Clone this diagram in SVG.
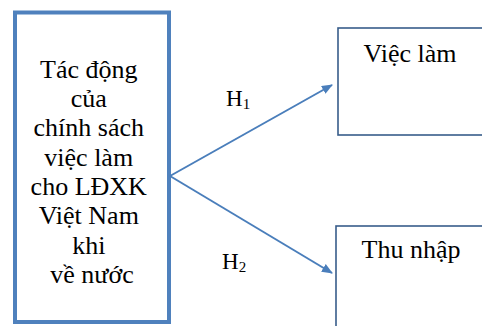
<svg xmlns="http://www.w3.org/2000/svg" width="482" height="326" viewBox="0 0 482 326">
  <style>
    .t { font-family: 'Liberation Serif', 'Times New Roman', serif; fill: #000; }
    .main { font-size: 26px; text-anchor: middle; }
    .lbl { font-size: 23px; }
    .sub { font-size: 15px; }
    .src { fill: #fff; stroke: #4f81bd; stroke-width: 4; }
    .dst { fill: #fff; stroke: #385d8a; stroke-width: 1.6; }
    .edge { stroke: #4a7ebb; stroke-width: 2; fill: none; }
  </style>
  <defs>
    <marker id="arrow" markerWidth="11" markerHeight="9" refX="10" refY="4.5" orient="auto" markerUnits="userSpaceOnUse" viewBox="0 0 11 9">
      <path d="M0,0 L11,4.5 L0,9 Z" fill="#4a7ebb"/>
    </marker>
  </defs>

  <g id="node-policy">
    <rect class="src" x="15" y="12.5" width="154" height="309.5"/>
    <text class="t main" x="92">
      <tspan x="92" y="78">Tác động</tspan>
      <tspan x="92" y="107">của</tspan>
      <tspan x="92" y="136">chính sách</tspan>
      <tspan x="92" y="166">việc làm</tspan>
      <tspan x="92" y="195">cho LĐXK</tspan>
      <tspan x="92" y="224">Việt Nam</tspan>
      <tspan x="92" y="254">khi</tspan>
      <tspan x="92" y="283">về nước</tspan>
    </text>
  </g>

  <g id="node-employment">
    <rect class="dst" x="338" y="28" width="150" height="107"/>
    <text class="t main" x="410" y="62">Việc làm</text>
  </g>

  <g id="node-income">
    <rect class="dst" x="336" y="226" width="150" height="110"/>
    <text class="t main" x="411" y="258">Thu nhập</text>
  </g>

  <g id="connectors">
    <line class="edge" x1="170" y1="176" x2="332" y2="85" marker-end="url(#arrow)"/>
    <line class="edge" x1="170" y1="176" x2="332" y2="273" marker-end="url(#arrow)"/>
    <text class="t lbl" x="226" y="106">H<tspan class="sub" dy="3">1</tspan></text>
    <text class="t lbl" x="222" y="269">H<tspan class="sub" dy="3">2</tspan></text>
  </g>
</svg>
